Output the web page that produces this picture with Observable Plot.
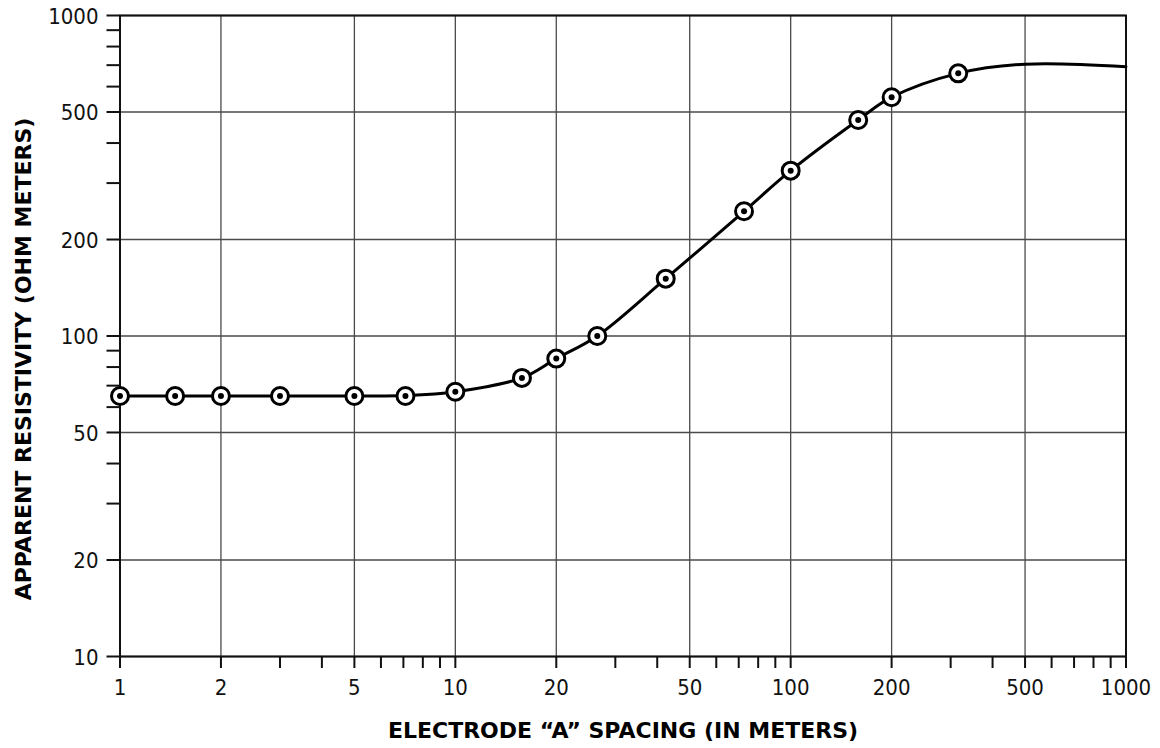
<!DOCTYPE html>
<html>
<head>
<meta charset="utf-8">
<script src="https://cdn.jsdelivr.net/npm/d3@7"></script>
<script src="https://cdn.jsdelivr.net/npm/@observablehq/plot@0.6"></script>
<style>
  html, body { margin: 0; padding: 0; background: #fff; }
  #chart svg { display: block; }
</style>
</head>
<body>
<div id="chart"></div>
<script>
// Measured points (electrode "A" spacing in meters, apparent resistivity in ohm-meters)
const spacing      = [1, 1.46, 2, 3, 5, 7.1, 10, 15.8, 20, 26.5, 42.4, 72.6, 100, 159, 200, 316];
const resistivity  = [65, 65, 65, 65, 65, 65, 67, 74, 85, 100, 151, 245, 328, 472, 556, 660];

// Fitted curve drawn through the points and beyond
const curveSpacing     = [1, 1.46, 2, 3, 5, 7.1, 10, 15.8, 20, 26.5, 42.4, 72.6, 100, 159, 200, 316, 500, 1000];
const curveResistivity = [65, 65, 65, 65, 65, 65.2, 67, 74, 85, 100, 151, 245, 328, 472, 556, 660, 705, 692];

// Axis ticks
const xMajorTicks = [1, 2, 5, 10, 20, 50, 100, 200, 500, 1000];
const xMinorTicks = [3, 4, 6, 7, 8, 9, 30, 40, 60, 70, 80, 90, 300, 400, 600, 700, 800, 900];
const yMajorTicks = [10, 20, 50, 100, 200, 500, 1000];
const yMinorTicks = [30, 40, 60, 70, 80, 90, 300, 400, 600, 700, 800, 900];

const xTitle = "ELECTRODE \u201CA\u201D SPACING (IN METERS)";
const yTitle = "APPARENT RESISTIVITY (OHM METERS)";

const points = spacing.map((s, i) => ({s, r: resistivity[i]}));
const curve = curveSpacing.map((s, i) => ({s, r: curveResistivity[i]}));

const tickFont = "'DejaVu Sans Condensed', 'DejaVu Sans', sans-serif";
const titleFont = "'DejaVu Sans', sans-serif";

const chart = Plot.plot({
  width: 1160,
  height: 748,
  marginTop: 15,
  marginBottom: 92,
  marginLeft: 119.5,
  marginRight: 34.5,
  style: {fontFamily: tickFont, background: "#fff", color: "#000"},
  x: {type: "log", domain: [1, 1000]},
  y: {type: "log", domain: [10, 1000]},
  marks: [
    Plot.ruleX(xMajorTicks, {stroke: "#4a4a4a", strokeWidth: 1.3}),
    Plot.ruleY(yMajorTicks, {stroke: "#4a4a4a", strokeWidth: 1.3}),
    Plot.axisX(xMajorTicks.concat(xMinorTicks), {tickSize: 12, strokeWidth: 2, stroke: "#111",
      tickFormat: () => "", label: null}),
    Plot.axisY(yMajorTicks.concat(yMinorTicks), {tickSize: 13, strokeWidth: 2, stroke: "#111",
      tickFormat: () => "", label: null}),
    Plot.text(xMajorTicks, {x: d => d, frameAnchor: "bottom", lineAnchor: "middle", dy: 31,
      text: d => String(d), fontSize: 22, fontFamily: tickFont, fill: "#111"}),
    Plot.text(yMajorTicks, {y: d => d, frameAnchor: "left", textAnchor: "end", lineAnchor: "middle", dx: -21.5, dy: 1,
      text: d => String(d), fontSize: 22, fontFamily: tickFont, fill: "#111"}),
    Plot.frame({stroke: "#111", strokeWidth: 2}),
    Plot.line(curve, {x: "s", y: "r", curve: "catmull-rom", stroke: "#000", strokeWidth: 3}),
    Plot.dot(points, {x: "s", y: "r", r: 8.5, fill: "#fff", stroke: "#000", strokeWidth: 3}),
    Plot.dot(points, {x: "s", y: "r", r: 3, fill: "#000", stroke: "none"}),
    Plot.text([xTitle], {frameAnchor: "bottom", textAnchor: "middle", lineAnchor: "middle", dy: 74,
      fontWeight: "bold", fontSize: 22, fontFamily: titleFont, fill: "#000"}),
    Plot.text([yTitle], {frameAnchor: "left", textAnchor: "middle", lineAnchor: "middle", dx: -96, dy: 23, rotate: -90,
      fontWeight: "bold", fontSize: 22, fontFamily: titleFont, fill: "#000"})
  ]
});
document.getElementById("chart").appendChild(chart);
</script>
</body>
</html>
